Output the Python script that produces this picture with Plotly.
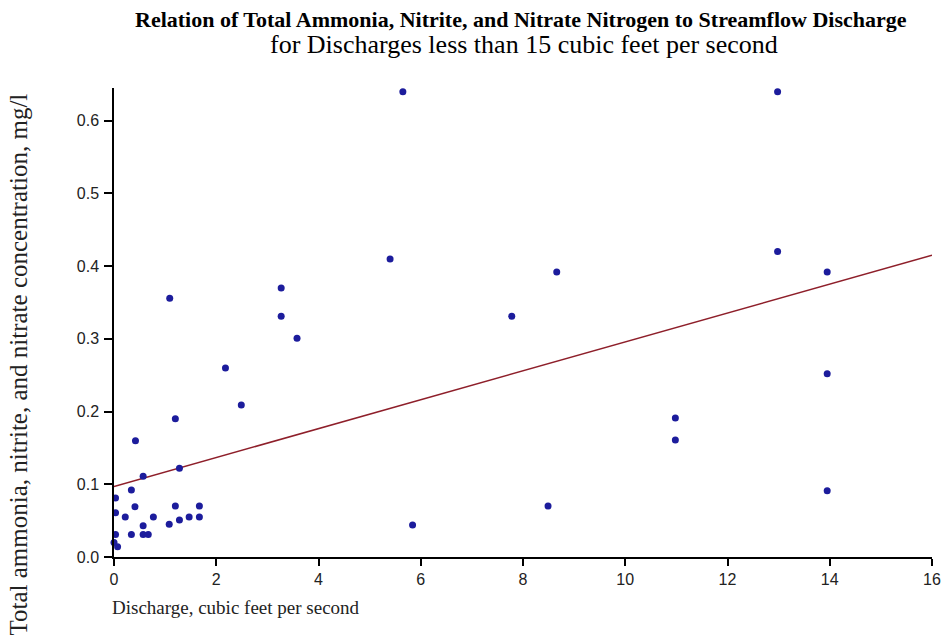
import plotly.graph_objects as go

# Data
discharge = [0.0, 0.07, 0.03, 0.03, 0.03, 0.22, 0.34, 0.34, 0.41, 0.42,
             0.57, 0.57, 0.57, 0.67, 0.77, 1.09, 1.08, 1.2, 1.2, 1.28,
             1.28, 1.47, 1.67, 1.67, 2.18, 2.49, 3.27, 3.27, 3.58, 5.4,
             5.65, 5.84, 7.78, 8.49, 8.66, 10.98, 10.98, 12.98, 12.98, 13.95,
             13.95, 13.95]
concentration = [0.02, 0.014, 0.031, 0.061, 0.081, 0.055, 0.092, 0.031, 0.069, 0.16,
                 0.111, 0.043, 0.031, 0.031, 0.055, 0.356, 0.045, 0.19, 0.07, 0.122,
                 0.051, 0.055, 0.07, 0.055, 0.26, 0.209, 0.37, 0.331, 0.301, 0.41,
                 0.64, 0.044, 0.331, 0.07, 0.392, 0.191, 0.161, 0.64, 0.42, 0.392,
                 0.252, 0.091]

trend_x = [0, 16]
trend_y = [0.097, 0.415]

x_ticks = [0, 2, 4, 6, 8, 10, 12, 14, 16]
y_ticks = [0.0, 0.1, 0.2, 0.3, 0.4, 0.5, 0.6]
y_ticklabels = ["0.0", "0.1", "0.2", "0.3", "0.4", "0.5", "0.6"]

title_line1 = "Relation of Total Ammonia, Nitrite, and Nitrate Nitrogen to Streamflow Discharge"
title_line2 = "for Discharges less than 15 cubic feet per second"
x_title = "Discharge, cubic feet per second"
y_title = "Total ammonia, nitrite, and nitrate concentration, mg/l"

W, H = 943, 644
L, R, T, B = 113.5, 11, 88, 87
plot_w = W - L - R
plot_h = H - T - B

def py(pix):
    # convert a pixel row to paper y coordinate
    return (H - B - pix) / plot_h

def px(pix):
    return (pix - L) / plot_w

fig = go.Figure()

fig.add_trace(go.Scatter(
    x=trend_x, y=trend_y, mode="lines",
    line=dict(color="#8e1f2a", width=1.5),
    hoverinfo="skip", showlegend=False, cliponaxis=False,
))

fig.add_trace(go.Scatter(
    x=discharge, y=concentration, mode="markers",
    marker=dict(color="#1c1c9c", size=7, line=dict(width=0)),
    showlegend=False, cliponaxis=False,
))

tick_font = dict(family="Liberation Sans, Arial", size=16, color="#222222")
serif = "Liberation Serif, Times New Roman, serif"

fig.update_layout(
    width=W, height=H,
    margin=dict(l=L, r=R, t=T, b=B, autoexpand=False),
    paper_bgcolor="white", plot_bgcolor="white",
    showlegend=False,
    xaxis=dict(
        range=[0, 16], tickvals=x_ticks, ticktext=[str(v) for v in x_ticks],
        showgrid=False, zeroline=False, showline=True, linecolor="black", linewidth=1.5,
        ticks="outside", ticklen=7, tickwidth=1.5, tickcolor="black",
        tickfont=tick_font, ticklabelstandoff=0,
    ),
    yaxis=dict(
        range=[0, 0.645], tickvals=y_ticks, ticktext=y_ticklabels,
        showgrid=False, zeroline=False, showline=True, linecolor="black", linewidth=1.5,
        ticks="outside", ticklen=8, tickwidth=1.5, tickcolor="black",
        tickfont=tick_font, ticklabelstandoff=2,
    ),
    annotations=[
        dict(text="<b>" + title_line1 + "</b>", xref="paper", yref="paper",
             x=px(520.5), y=py(20), xanchor="center", yanchor="middle", showarrow=False,
             font=dict(family=serif, size=22, color="black")),
        dict(text=title_line2, xref="paper", yref="paper",
             x=px(524), y=py(44), xanchor="center", yanchor="middle", showarrow=False,
             font=dict(family=serif, size=26, color="black")),
        dict(text=x_title, xref="paper", yref="paper",
             x=0, y=py(607), xanchor="left", yanchor="middle", showarrow=False, xshift=-4,
             font=dict(family=serif, size=19, color="#222222")),
        dict(text=y_title, xref="paper", yref="paper",
             x=px(17), y=py(365), xanchor="center", yanchor="middle",
             textangle=-90, showarrow=False,
             font=dict(family=serif, size=25, color="#222222")),
    ],
)

fig.write_html("out.html")
